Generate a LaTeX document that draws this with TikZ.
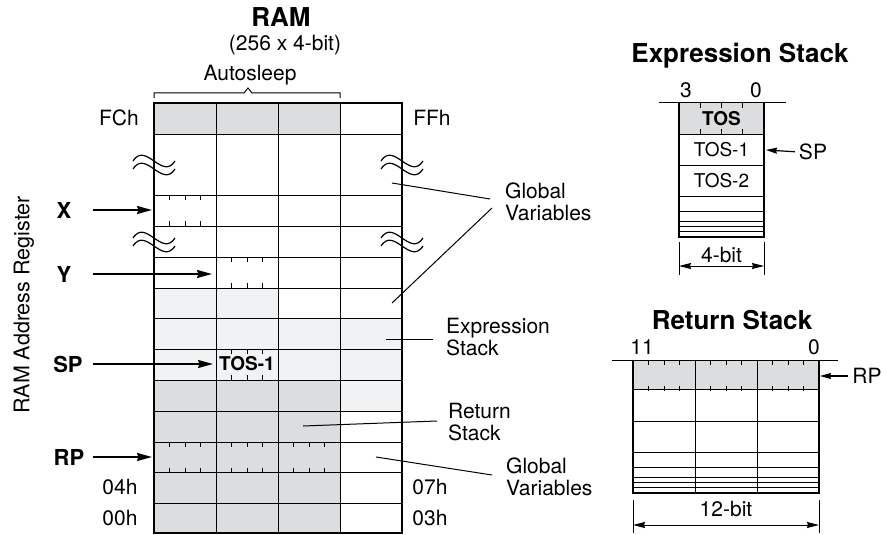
\documentclass[tikz,border=0pt]{standalone}
\usepackage{fontspec}
\setmainfont{TeX Gyre Heros}
\usetikzlibrary{arrows.meta}
\definecolor{darkcell}{RGB}{220,221,223}
\definecolor{lightcell}{RGB}{241,242,243}
\tikzset{
ticks/.pic={
  \foreach \t in {15.5,31,46.5} {
    \draw[line width=1pt] (\t,0) -- (\t,5);
    \draw[line width=1pt] (\t,31) -- (\t,26);
  }
  },
tosticks/.pic={
  \foreach \t in {21.25,42.5,63.75} {
    \draw[line width=1pt] (\t,0) -- (\t,5);
    \draw[line width=1pt] (\t,31) -- (\t,26);
  }
  },
gap/.pic={
  \draw[line width=1.2pt] (-21,-4) .. controls (-8,-24) and (8,16) .. (21,-4);
  \draw[line width=1.2pt] (-21,4) .. controls (-8,-16) and (8,24) .. (21,4);
  },
grid/.style={line width=1pt},
frame/.style={line width=2.2pt},
txt/.style={font=\fontsize{21}{22}\selectfont, inner sep=0pt},
lab/.style={txt, align=left, anchor=west},
tos/.style={font=\fontsize{19}{19}\selectfont, inner sep=0pt},
title/.style={font=\bfseries\fontsize{26}{26}\selectfont, inner sep=0pt},
reg/.style={font=\bfseries\fontsize{22}{22}\selectfont, inner sep=0pt},
bigarrow/.style={line width=2pt, -{Stealth[length=15pt,width=8pt,inset=1.5pt]}},
smallarrow/.style={line width=1.2pt, shorten <=4pt, -{Stealth[length=11pt,width=6pt,inset=1pt]}},
dimarrow/.style={line width=1pt, {Stealth[length=12pt,width=6pt,inset=1pt]}-{Stealth[length=12pt,width=6pt,inset=1pt]}},
leader/.style={line width=1pt}
}
\begin{document}
\begin{tikzpicture}[x=1pt,y=-1pt]
\useasboundingbox (0,0) rectangle (887,535);
\fill[darkcell] (154,103) rectangle (340,134);
\fill[lightcell] (154,288) rectangle (278,318);
\fill[lightcell] (154,318) rectangle (402,411);
\fill[darkcell] (154,380) rectangle (340,533);
\foreach \y in {134,195,226,257,288,318,349,380,411,442,472,503}
  \draw[grid] (154,\y) -- (402,\y);
\foreach \x in {216,278,340}
  \draw[grid] (\x,103) -- (\x,533);
\draw[frame] (154,103) rectangle (402,533);
\pic at (154,195) {ticks};
\pic at (216,257) {ticks};
\pic at (216,349) {ticks};
\foreach \x in {154,216,278}
  \pic at (\x,442) {ticks};
\pic at (154,165) {gap};
\pic at (402,165) {gap};
\pic at (154,242) {gap};
\pic at (402,242) {gap};
\draw[grid] (154,98) -- (154,93) -- (244,93) -- (248,88) -- (252,93) -- (340,93) -- (340,98);
\node[title] (ram) at (281,17) {RAM};
\node[txt] (ramsize) at (285,45) {(256 x 4-bit)};
\node[txt] (autosleep) at (250,75) {Autosleep};
\node[txt] (fch) at (119,118) {FCh};
\node[txt] (ffh) at (432,118) {FFh};
\node[txt] (h04) at (120,487) {04h};
\node[txt] (h07) at (430,487) {07h};
\node[txt] (h00) at (120,518) {00h};
\node[txt] (h03) at (430,518) {03h};
\node[txt, font=\fontsize{21.5}{22}\selectfont, rotate=90] (rar) at (24,305) {RAM Address Register};
\node[reg] (x) at (64,210) {X};
\node[reg] (y) at (64,274) {Y};
\node[reg] (sp) at (68,364) {SP};
\node[reg] (rp) at (69,457) {RP};
\coordinate (xcell) at (152,210);
\coordinate (ycell) at (212,274);
\coordinate (spcell) at (213,364);
\coordinate (rpcell) at (152,457);
\draw[bigarrow] (93,210) coordinate (xs) -- (xcell);
\draw[bigarrow] (93,274) coordinate (ys) -- (ycell);
\draw[bigarrow] (93,364) coordinate (sps) -- (spcell);
\draw[bigarrow] (93,457) coordinate (rps) -- (rpcell);
\node[reg, font=\bfseries\fontsize{19}{19}\selectfont] (tosram) at (247,364) {TOS-1};
\node[lab] (gvtop) at (505,202) {Global\\Variables};
\node[lab] (exprlab) at (446,337) {Expression\\Stack};
\node[lab] (retlab) at (448,422) {Return\\Stack};
\node[lab] (gvbot) at (506,477) {Global\\Variables};
\coordinate (gva) at (392,183);
\coordinate (gvb) at (392,303);
\coordinate (gvae) at (490,199);
\coordinate (gvbe) at (492,208);
\coordinate (exa) at (386,339);
\coordinate (exe) at (433,339);
\coordinate (rea) at (303,426);
\coordinate (ree) at (437,421);
\coordinate (gvc) at (376,457);
\coordinate (gvce) at (492,475);
\draw[leader] (gva) -- (gvae);
\draw[leader] (gvb) -- (gvbe);
\draw[leader] (exa) -- (exe);
\draw[leader] (rea) -- (ree);
\draw[leader] (gvc) -- (gvce);
\node[title] (extitle) at (740,56) {Expression Stack};
\fill[darkcell] (679,103) rectangle (764,134);
\pic at (679,103) {tosticks};
\foreach \y in {134,165,196,211,221,226,231}
  \draw[grid] (679,\y) -- (764,\y);
\draw[grid] (659,103) -- (786,103);
\draw[frame] (679,103) -- (679,237) -- (764,237) -- (764,103);
\node[txt] (b3) at (686,90) {3};
\node[txt] (b0) at (756,90) {0};
\node[tos, font=\bfseries\fontsize{19}{19}\selectfont] (tos) at (721.5,119) {TOS};
\node[tos] (tos1) at (721.5,150) {TOS-1};
\node[tos] (tos2) at (721.5,181) {TOS-2};
\node[txt] (spx) at (813,152) {SP};
\coordinate (tos1r) at (766,150);
\draw[smallarrow] (spx.west) -- (tos1r);
\coordinate (exl) at (679,266);
\coordinate (exr) at (764,266);
\draw[grid] (679,242) -- (679,275);
\draw[grid] (764,242) -- (764,275);
\draw[dimarrow] (exl) -- (exr);
\node[txt] (exw) at (721.5,255) {4-bit};
\node[title] (rettitle) at (732,320) {Return Stack};
\fill[darkcell] (633,360) rectangle (819,389);
\foreach \x in {633,695,757}
  \pic at (\x,360) {ticks};
\foreach \y in {389,421,452,467,477,482,487}
  \draw[grid] (633,\y) -- (819,\y);
\foreach \x in {695,757}
  \draw[grid] (\x,360) -- (\x,493);
\draw[grid] (612,360) -- (838,360);
\draw[frame] (633,360) -- (633,493) -- (819,493) -- (819,360);
\node[txt] (b11) at (642,347) {11};
\node[txt] (r0) at (814,347) {0};
\node[txt] (rpx) at (867,376) {RP};
\coordinate (rptop) at (820,376);
\draw[smallarrow] (rpx.west) -- (rptop);
\coordinate (rel) at (633,525);
\coordinate (rer) at (819,525);
\draw[grid] (633,500) -- (633,533);
\draw[grid] (819,500) -- (819,533);
\draw[dimarrow] (rel) -- (rer);
\node[txt] (rew) at (726,509) {12-bit};
\end{tikzpicture}
\end{document}
